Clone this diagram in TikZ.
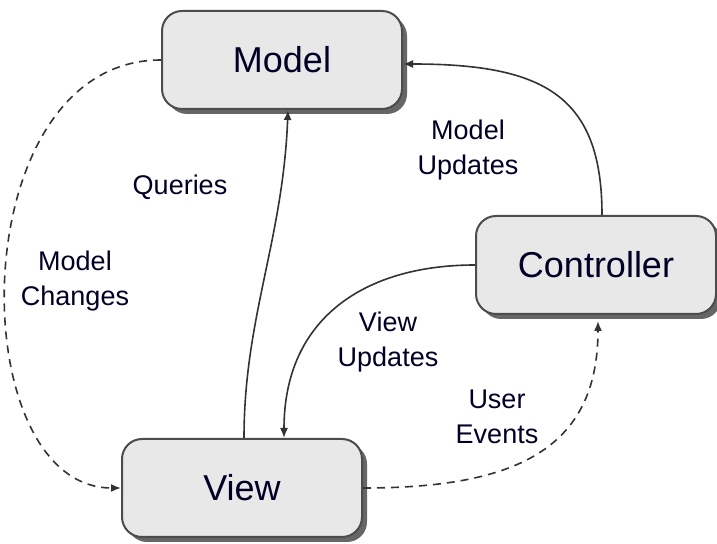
\documentclass[tikz,border=0pt]{standalone}
\usepackage{fontspec}
\setmainfont{Liberation Sans}
\usetikzlibrary{arrows.meta,shadows,calc}

\tikzset{
  block/.style={draw=black!70, line width=1pt, fill=black!9, rounded corners=10pt,
    minimum width=120pt, minimum height=49pt, text=black!85!blue,
    font=\fontsize{18}{22}\selectfont,
    drop shadow={shadow xshift=2.5pt, shadow yshift=-2.5pt, fill=black!60, opacity=1}},
  flow/.style={draw=black!80, line width=0.8pt, -{Latex[length=5pt,width=4pt]}},
  dashline/.style={dash pattern=on 4pt off 3pt},
  note/.style={align=center, text=black!85!blue, font=\fontsize{13.5}{17.5}\selectfont},
}

\begin{document}
\begin{tikzpicture}[x=0.5pt,y=-0.5pt]
        \useasboundingbox (0,0) rectangle (717,544);
        \node[block] (model) at (282,60) {Model};
        \node[block] (ctrl) at (596,265) {Controller};
        \node[block] (view) at (242,488) {View};
        \node[note] (changes) at (75,281) {Model\\Changes};
        \node[note] (queries) at (180,187) {Queries};
        \node[note] (mupd) at (468,150) {Model\\Updates};
        \node[note] (vupd) at (388,342) {View\\Updates};
        \node[note] (events) at (497,417) {User\\Events};
        \draw[flow, dashline] (model.west) .. controls +(-200,0) and +(-160,0) .. (view.west);
        \draw[flow] ($(view.north)+(2,0)$) .. controls +(0,-120) and +(-5,130) .. ($(model.south)+(6,0)$);
        \draw[flow] ($(ctrl.north)+(6,0)$) .. controls +(0,-120) and +(140,0) .. ($(model.east)+(0,4)$);
        \draw[flow] (ctrl.west) .. controls +(-110,0) and +(0,-120) .. ($(view.north)+(42,0)$);
        \draw[flow, dashline] (view.east) .. controls +(150,0) and +(0,130) .. ($(ctrl.south)+(2,6)$);
\end{tikzpicture}
\end{document}
